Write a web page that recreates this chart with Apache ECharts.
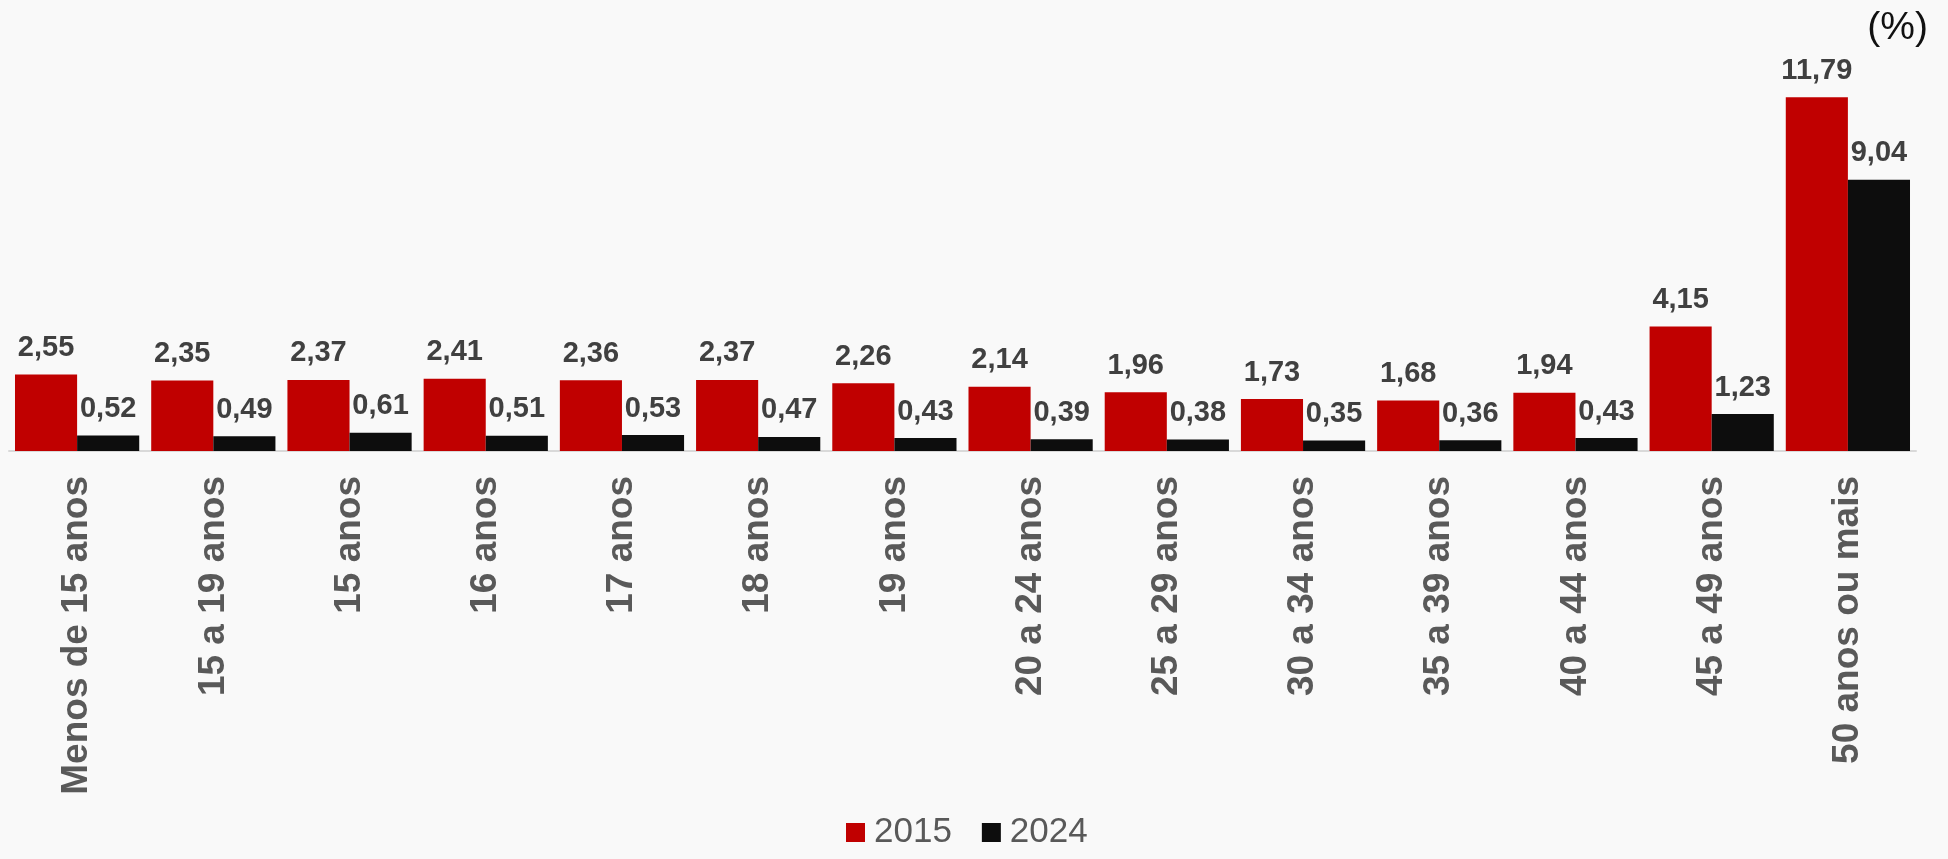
<!DOCTYPE html>
<html>
<head>
<meta charset="utf-8">
<script src="https://cdn.jsdelivr.net/npm/echarts@6/dist/echarts.min.js"></script>
<style>
  html, body { margin: 0; padding: 0; background: #f9f9f9; }
  #chart { width: 1948px; height: 859px; }
</style>
</head>
<body>
<div id="chart"></div>
<script>
const categories = ['Menos de 15 anos', '15 a 19 anos', '15 anos', '16 anos', '17 anos', '18 anos', '19 anos',
  '20 a 24 anos', '25 a 29 anos', '30 a 34 anos', '35 a 39 anos', '40 a 44 anos', '45 a 49 anos', '50 anos ou mais']
const values2015 = [2.55, 2.35, 2.37, 2.41, 2.36, 2.37, 2.26, 2.14, 1.96, 1.73, 1.68, 1.94, 4.15, 11.79]
const values2024 = [0.52, 0.49, 0.61, 0.51, 0.53, 0.47, 0.43, 0.39, 0.38, 0.35, 0.36, 0.43, 1.23, 9.04]

const font = '"Liberation Sans", Arial, sans-serif'
const valueLabel = {
  show: true,
  position: 'top',
  distance: 12,
  color: '#404040',
  fontFamily: font,
  fontWeight: 'bold',
  fontSize: 29,
  formatter: p => p.value.toFixed(2).replace('.', ',')
}

const chart = echarts.init(document.getElementById('chart'))
chart.setOption({
  backgroundColor: '#f9f9f9',
  animation: false,
  graphic: [{
    type: 'text', right: 20, top: 9,
    style: { text: '(%)', font: '39px ' + font, fill: '#111' }
  }],
  legend: {
    bottom: 4,
    left: 841,
    itemWidth: 19,
    itemHeight: 19,
    itemGap: 30,
    icon: 'rect',
    textStyle: { fontFamily: font, fontSize: 35, color: '#595959', padding: [0, 0, 0, 4] },
    data: ['2015', '2024']
  },
  grid: { left: 9, right: 32, top: 31, bottom: 408 },
  xAxis: {
    type: 'category',
    data: categories,
    axisLine: { lineStyle: { color: '#d9d9d9', width: 2 } },
    axisTick: { show: false },
    axisLabel: {
      rotate: 90,
      margin: 25,
      interval: 0,
      color: '#595959',
      fontFamily: font,
      fontWeight: 'bold',
      fontSize: 37
    }
  },
  yAxis: { type: 'value', min: 0, max: 14, show: false, splitLine: { show: false } },
  series: [
    { name: '2015', type: 'bar', data: values2015, barGap: '0%', barCategoryGap: '8.8%',
      itemStyle: { color: '#c00000' }, label: valueLabel },
    { name: '2024', type: 'bar', data: values2024, barGap: '0%', barCategoryGap: '8.8%',
      itemStyle: { color: '#0d0d0d' }, label: valueLabel }
  ]
})
</script>
</body>
</html>
